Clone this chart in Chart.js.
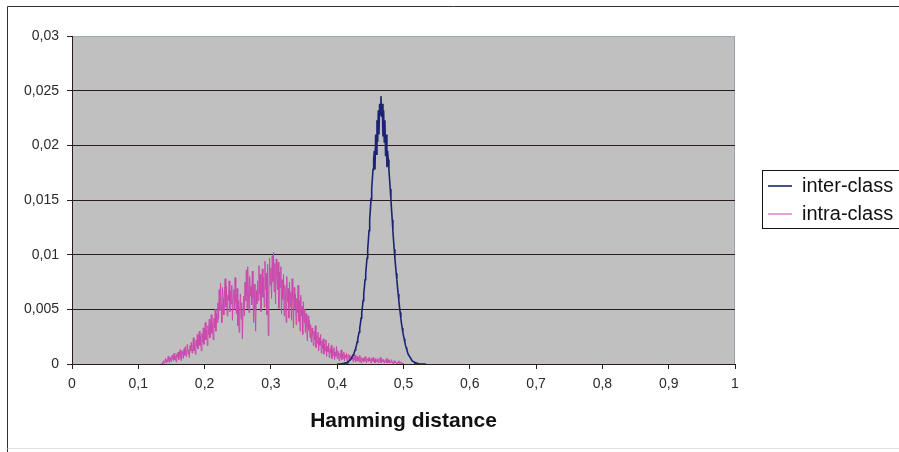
<!DOCTYPE html>
<html>
<head>
<meta charset="utf-8">
<script src="https://cdn.jsdelivr.net/npm/chart.js@4/dist/chart.umd.min.js"></script>
<style>
  html, body { margin: 0; padding: 0; background: #ffffff; }
  #wrap { width: 899px; height: 452px; position: relative; }
</style>
</head>
<body>
<div id="wrap"><canvas id="chart" width="899" height="452"></canvas></div>
<script>
// Hamming distance distributions (relative frequency per bin)

const seriesNames = ['inter-class', 'intra-class'];

// intra-class: bins from 0.135 in steps of 0.001
const intraStart = 0.135;
const intraStep = 0.001;
const intraValues = [
  0, 0.0001, 0, 0.0003, 0.0001,
  0.0002, 0.0005, 0.0001, 0.0004, 0.0002, 0.0007, 0.0003, 0.0001, 0.0006, 0.0004,
  0.0002, 0.0008, 0.0005, 0.0003, 0.0010, 0.0004, 0.0007, 0.0002, 0.0009, 0.0006,
  0.0011, 0.0004, 0.0008, 0.0013, 0.0006, 0.0003, 0.0012, 0.0009, 0.0005, 0.0014,
  0.0008, 0.0016, 0.0007, 0.0011, 0.0018, 0.0009, 0.0013, 0.0006, 0.0017, 0.0012,
  0.0020, 0.0010, 0.0015, 0.0024, 0.0012, 0.0019, 0.0009, 0.0022, 0.0016, 0.0027,
  0.0014, 0.0021, 0.0030, 0.0017, 0.0025, 0.0012, 0.0028, 0.0020, 0.0033, 0.0018,
  0.0026, 0.0038, 0.0022, 0.0031, 0.0017, 0.0035, 0.0027, 0.0041, 0.0024, 0.0032,
  0.0045, 0.0028, 0.0037, 0.0022, 0.0042, 0.0033, 0.0050, 0.0030, 0.0046, 0.0038,
  0.0056, 0.0041, 0.0068, 0.0049, 0.0074, 0.0055, 0.0038, 0.0070, 0.0060, 0.0045,
  0.0065, 0.0078, 0.0052, 0.0071, 0.0044, 0.0063, 0.0058, 0.0076, 0.0048, 0.0067,
  0.0055, 0.0072, 0.0040, 0.0061, 0.0068, 0.0050, 0.0079, 0.0057, 0.0046, 0.0069,
  0.0035, 0.0058, 0.0029, 0.0052, 0.0064, 0.0041, 0.0056, 0.0023, 0.0049, 0.0062,
  0.0044, 0.0075, 0.0058, 0.0086, 0.0051, 0.0089, 0.0066, 0.0047, 0.0080, 0.0062,
  0.0071, 0.0054, 0.0085, 0.0060, 0.0038, 0.0073, 0.0049, 0.0030, 0.0067, 0.0055,
  0.0076, 0.0058, 0.0090, 0.0064, 0.0082, 0.0048, 0.0070, 0.0087, 0.0061, 0.0079,
  0.0052, 0.0094, 0.0068, 0.0083, 0.0045, 0.0091, 0.0026, 0.0064, 0.0097, 0.0072,
  0.0088, 0.0060, 0.0099, 0.0075, 0.0102, 0.0066, 0.0092, 0.0055, 0.0096, 0.0080,
  0.0068, 0.0093, 0.0051, 0.0084, 0.0070, 0.0089, 0.0046, 0.0077, 0.0059, 0.0082,
  0.0044, 0.0072, 0.0063, 0.0038, 0.0080, 0.0057, 0.0069, 0.0042, 0.0075, 0.0053,
  0.0066, 0.0040, 0.0078, 0.0058, 0.0033, 0.0070, 0.0051, 0.0064, 0.0036, 0.0060,
  0.0047, 0.0072, 0.0039, 0.0058, 0.0030, 0.0063, 0.0044, 0.0053, 0.0027, 0.0057,
  0.0038, 0.0050, 0.0029, 0.0046, 0.0034, 0.0021, 0.0044, 0.0031, 0.0040, 0.0024,
  0.0036, 0.0020, 0.0033, 0.0027, 0.0017, 0.0030, 0.0022, 0.0035, 0.0015, 0.0026,
  0.0019, 0.0029, 0.0012, 0.0024, 0.0017, 0.0027, 0.0010, 0.0021, 0.0014, 0.0023,
  0.0009, 0.0018, 0.0012, 0.0022, 0.0007, 0.0016, 0.0011, 0.0019, 0.0006, 0.0014,
  0.0010, 0.0017, 0.0005, 0.0013, 0.0008, 0.0015, 0.0004, 0.0011, 0.0007, 0.0016,
  0.0005, 0.0012, 0.0008, 0.0003, 0.0010, 0.0006, 0.0013, 0.0004, 0.0009, 0.0005,
  0.0011, 0.0003, 0.0008, 0.0006, 0.0010, 0.0002, 0.0007, 0.0009, 0.0004, 0.0008,
  0.0003, 0.0007, 0.0005, 0.0009, 0.0002, 0.0006, 0.0004, 0.0008, 0.0002, 0.0005,
  0.0007, 0.0003, 0.0006, 0.0002, 0.0008, 0.0004, 0.0001, 0.0006, 0.0003, 0.0005,
  0.0002, 0.0006, 0.0003, 0.0007, 0.0001, 0.0004, 0.0005, 0.0002, 0.0006, 0.0003,
  0.0004, 0.0001, 0.0005, 0.0003, 0.0006, 0.0002, 0.0004, 0.0001, 0.0005, 0.0003,
  0.0002, 0.0005, 0.0001, 0.0004, 0.0003, 0.0006, 0.0001, 0.0003, 0.0004, 0.0002,
  0.0004, 0.0001, 0.0003, 0.0002, 0.0005, 0.0001, 0.0002, 0.0004, 0.0001, 0.0003,
  0.0001, 0.0002, 0.0004, 0.0001, 0.0002, 0.0000, 0.0003, 0.0001, 0.0002, 0.0001,
  0.0000, 0.0002, 0.0001, 0.0003, 0.0000, 0.0001, 0.0002, 0.0000, 0.0001, 0.0000,
  0.0000
];

// inter-class: bins from 0.400 in steps of 0.001
const interStart = 0.400;
const interStep = 0.001;
const interValues = [
  0, 0, 0, 0, 0, 0, 0, 0, 0.00005, 0.00005,
  0.00005, 0.00005, 0.0001, 0.0001, 0.0001, 0.0001, 0.0002, 0.0002, 0.0003, 0.0003,
  0.0004, 0.0005, 0.0006, 0.0007, 0.0008, 0.0009, 0.0011, 0.0013, 0.0015, 0.0017,
  0.0020, 0.0023, 0.0026, 0.0029, 0.0033, 0.0037, 0.0042, 0.0047, 0.0052, 0.0058,
  0.0064, 0.0070, 0.0077, 0.0083, 0.0090, 0.0097, 0.0105, 0.0113, 0.0122, 0.0132,
  0.0141, 0.0151, 0.0160, 0.0169, 0.0178, 0.0187, 0.0195, 0.0178, 0.0210, 0.0192,
  0.0223, 0.0203, 0.0232, 0.0210, 0.0238, 0.0228, 0.0245, 0.0226, 0.0238, 0.0208,
  0.0232, 0.0203, 0.0223, 0.0190, 0.0210, 0.0180, 0.0195, 0.0187, 0.0178, 0.0169,
  0.0160, 0.0151, 0.0141, 0.0132, 0.0122, 0.0113, 0.0105, 0.0097, 0.0090, 0.0083,
  0.0077, 0.0070, 0.0064, 0.0058, 0.0052, 0.0047, 0.0042, 0.0037, 0.0033, 0.0029,
  0.0026, 0.0023, 0.0020, 0.0017, 0.0015, 0.0013, 0.0011, 0.0009, 0.0008, 0.0007,
  0.0006, 0.0005, 0.0004, 0.0003, 0.0003, 0.0002, 0.0002, 0.0001, 0.0001, 0.0001,
  0.0001, 0.00005, 0.00005, 0.00005, 0, 0, 0, 0, 0, 0,
  0, 0, 0, 0, 0, 0
];

const xTickLabels = ['0', '0,1', '0,2', '0,3', '0,4', '0,5', '0,6', '0,7', '0,8', '0,9', '1'];
const yTickLabels = ['0', '0,005', '0,01', '0,015', '0,02', '0,025', '0,03'];
const xTitle = 'Hamming distance';

function toPoints(start, step, values) {
  return values.map((v, i) => ({ x: +(start + i * step).toFixed(3), y: v }));
}

const GRID = '#2a1c1c';
const FONT = "'Liberation Sans', Arial, sans-serif";

// panel background, frame lines and legend box
const decorations = {
  id: 'decorations',
  beforeLayout(chart) {
    const lg = chart.legend;
    if (lg && !lg._fixedWidth) {
      const fit = lg.fit;
      lg.fit = function () { fit.call(this); this.width = 164; };
      lg._fixedWidth = true;
    }
  },
  afterLayout(chart) {
    const lg = chart.legend;
    if (!lg) return;
    const w = 164;
    lg.left = chart.chartArea.right + 25;
    lg.right = lg.left + w;
    lg.top = 168;
    lg.bottom = chart.height;
    lg.width = w;
    lg.height = lg.bottom - lg.top;
  },
  beforeDraw(chart) {
    const { ctx, chartArea: a } = chart;
    ctx.save();
    ctx.fillStyle = '#ffffff';
    ctx.fillRect(0, 0, chart.width, chart.height);
    // outer frame
    ctx.strokeStyle = '#3a2e2e';
    ctx.lineWidth = 1;
    ctx.beginPath();
    ctx.moveTo(7.5, chart.height);
    ctx.lineTo(7.5, 6.5);
    ctx.lineTo(chart.width, 6.5);
    ctx.stroke();
    ctx.strokeStyle = '#e2e2e2';
    ctx.beginPath();
    ctx.moveTo(7.5, 448.5);
    ctx.lineTo(chart.width, 448.5);
    ctx.stroke();
    // plot panel
    ctx.fillStyle = '#c0c0c0';
    ctx.fillRect(a.left, a.top, a.right - a.left, a.bottom - a.top);
    ctx.strokeStyle = '#8fa3b0';
    ctx.beginPath();
    ctx.moveTo(Math.round(a.right) - 0.5, a.top);
    ctx.lineTo(Math.round(a.right) - 0.5, a.bottom);
    ctx.stroke();
    ctx.restore();
  },
  afterDraw(chart) {
    const lg = chart.legend;
    if (!lg) return;
    const { ctx } = chart;
    ctx.save();
    ctx.strokeStyle = '#1a1212';
    ctx.lineWidth = 1;
    ctx.strokeRect(Math.round(lg.left + 2) + 0.5, Math.round(lg.top + 2) + 0.5, 160, 58);
    ctx.restore();
  }
};

new Chart(document.getElementById('chart'), {
  type: 'line',
  data: {
    datasets: [
      {
        label: seriesNames[0],
        data: toPoints(interStart, interStep, interValues),
        borderColor: '#1d2373',
        backgroundColor: '#1d2373',
        borderWidth: 1.6,
        pointRadius: 0,
        tension: 0,
        fill: false
      },
      {
        label: seriesNames[1],
        data: toPoints(intraStart, intraStep, intraValues),
        borderColor: '#cc48ad',
        backgroundColor: '#cc48ad',
        borderWidth: 1,
        pointRadius: 0,
        tension: 0,
        fill: false
      }
    ]
  },
  options: {
    responsive: false,
    animation: false,
    layout: { padding: { top: 36, left: 0, right: 0, bottom: 8 } },
    plugins: {
      tooltip: { enabled: false },
      legend: {
        position: 'right',
        align: 'start',
        labels: {
          usePointStyle: true,
          pointStyle: 'line',
          pointStyleWidth: 24,
          padding: 8,
          color: '#111111',
          font: { family: FONT, size: 20 }
        }
      }
    },
    scales: {
      x: {
        type: 'linear',
        min: 0,
        max: 1,
        afterFit(scale) { scale.height = 80; },
        border: { display: true, color: GRID, width: 1 },
        grid: { drawOnChartArea: false, drawTicks: true, tickLength: 5, color: GRID, tickColor: GRID },
        ticks: {
          stepSize: 0.1,
          autoSkip: false,
          maxRotation: 0,
          padding: 7,
          color: '#2a2a2a',
          font: { family: FONT, size: 14 },
          callback: (v, i) => xTickLabels[i]
        },
        title: {
          display: true,
          text: xTitle,
          color: '#111111',
          font: { family: FONT, size: 21, weight: 'bold' },
          padding: { top: 0, bottom: 10 }
        }
      },
      y: {
        type: 'linear',
        min: 0,
        max: 0.03,
        afterFit(scale) { scale.width = 72; },
        border: { display: true, color: GRID, width: 1 },
        grid: {
          drawOnChartArea: true,
          drawTicks: true,
          tickLength: 5,
          tickColor: GRID,
          color: (c) => (c.tick && c.tick.value > 0.0299 ? '#9aabb6' : GRID)
        },
        ticks: {
          stepSize: 0.005,
          autoSkip: false,
          padding: 8,
          color: '#2a2a2a',
          font: { family: FONT, size: 14 },
          callback: (v, i) => yTickLabels[i]
        }
      }
    }
  },
  plugins: [decorations]
});
</script>
</body>
</html>
